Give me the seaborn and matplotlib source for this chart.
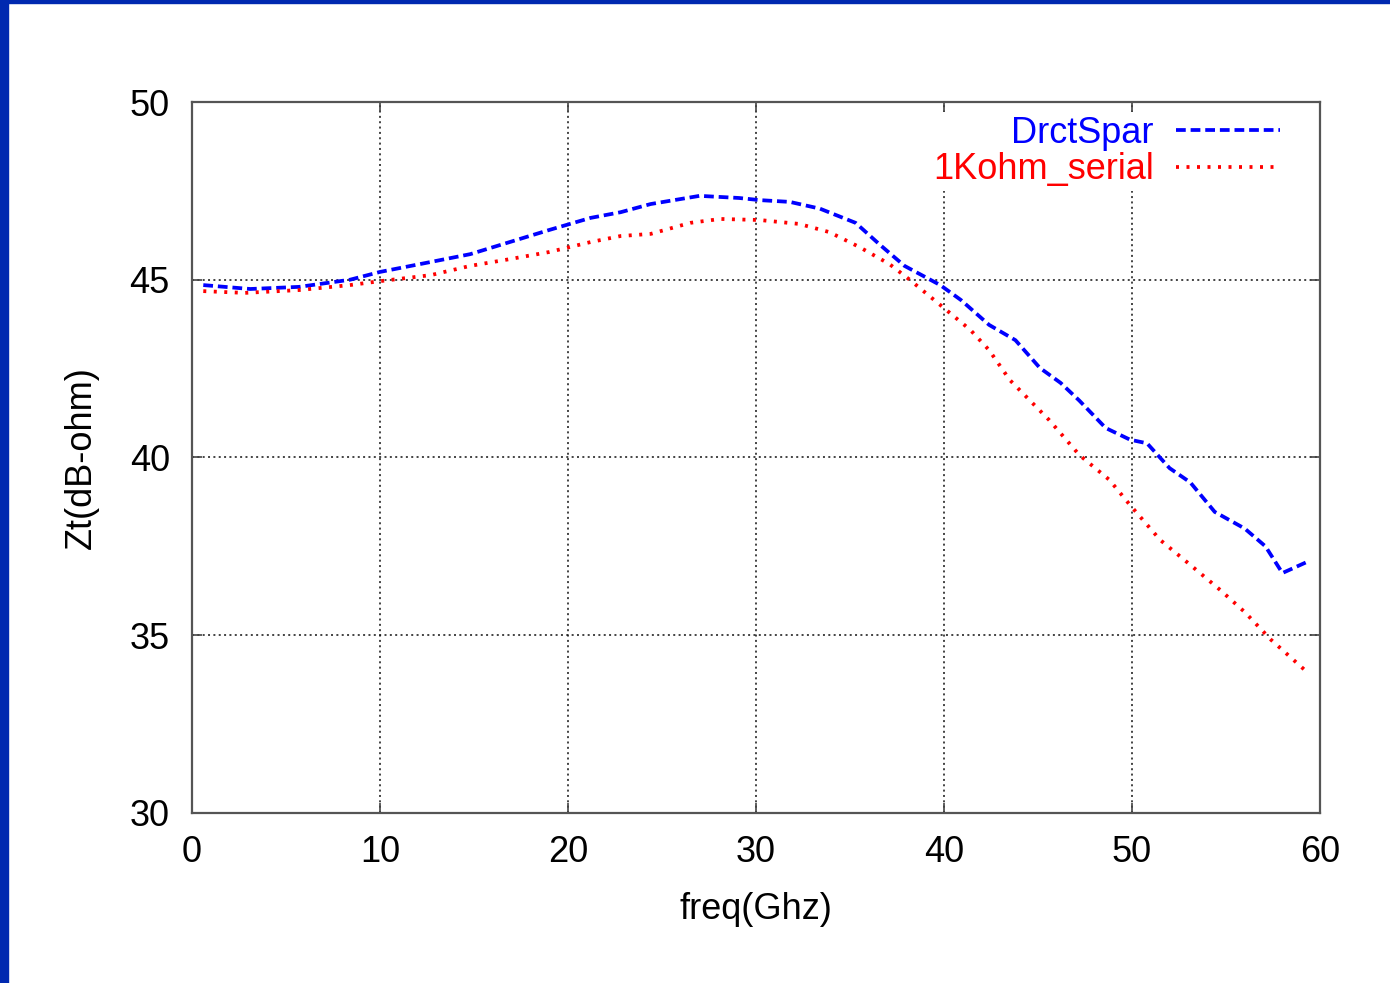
import matplotlib
matplotlib.use("Agg")
import matplotlib.pyplot as plt
import seaborn as sns
import pandas as pd
from matplotlib.patches import Rectangle

# values
freq_drct = [0.6, 3.1, 5.7, 8.4, 10.0, 12.7, 14.8, 16.9, 19.0, 21.2, 22.8, 24.4, 27.0, 29.1,
             30.2, 31.8, 33.4, 35.3, 36.6, 37.9, 39.8, 40.9, 42.4, 43.8, 45.1, 46.2, 47.2,
             48.6, 49.9, 50.8, 52.0, 53.1, 54.4, 56.0, 57.1, 58.0, 59.3]
zt_drct = [44.85, 44.74, 44.80, 45.00, 45.22, 45.50, 45.72, 46.06, 46.40, 46.74, 46.90, 47.13,
           47.36, 47.30, 47.24, 47.19, 47.00, 46.60, 45.98, 45.39, 44.85, 44.43, 43.73, 43.30,
           42.52, 42.10, 41.60, 40.83, 40.50, 40.40, 39.70, 39.30, 38.47, 38.00, 37.50, 36.75,
           37.06]

freq_1k = [0.6, 2.8, 5.7, 8.4, 10.0, 12.7, 14.8, 16.9, 19.0, 21.2, 22.8, 24.4, 26.5, 28.1,
           30.2, 32.3, 33.9, 35.5, 37.1, 38.2, 39.8, 41.4, 42.4, 43.5, 45.6, 47.2, 48.8, 49.9,
           51.5, 53.1, 54.7, 56.0, 57.4, 59.3]
zt_1k = [44.68, 44.63, 44.71, 44.85, 44.96, 45.13, 45.39, 45.58, 45.78, 46.06, 46.23, 46.29,
         46.60, 46.71, 46.68, 46.57, 46.34, 45.92, 45.44, 44.99, 44.29, 43.59, 43.02, 42.18,
         41.05, 40.07, 39.37, 38.66, 37.68, 36.98, 36.27, 35.65, 34.87, 33.97]

series_names = ["DrctSpar", "1Kohm_serial"]
x_ticks = [0, 10, 20, 30, 40, 50, 60]
y_ticks = [30, 35, 40, 45, 50]

df = pd.concat([
    pd.DataFrame({"freq": freq_drct, "zt": zt_drct, "series": series_names[0]}),
    pd.DataFrame({"freq": freq_1k, "zt": zt_1k, "series": series_names[1]}),
], ignore_index=True)

sns.set_style("white")
plt.rcParams["font.family"] = ["Liberation Sans", "DejaVu Sans"]
plt.rcParams["text.color"] = "black"
plt.rcParams["axes.labelcolor"] = "black"
plt.rcParams["xtick.labelcolor"] = "black"
plt.rcParams["ytick.labelcolor"] = "black"

fig = plt.figure(figsize=(13.9, 9.83), dpi=100)
ax = fig.add_axes([192 / 1390, 1 - 813 / 983, (1320 - 192) / 1390, (813 - 102) / 983])

sns.lineplot(data=df, x="freq", y="zt", hue="series", style="series",
             palette={"DrctSpar": "#0000ff", "1Kohm_serial": "#ff0000"},
             dashes={"DrctSpar": (2.6, 1.3), "1Kohm_serial": (0.8, 2.0)},
             estimator=None, sort=False, linewidth=2.7, ax=ax)

ax.set_xlim(0, 60)
ax.set_ylim(30, 50)
ax.set_xticks(x_ticks)
ax.set_yticks(y_ticks)
ax.grid(True, color="#111111", linestyle=(0, (1.3, 2.2)), linewidth=1.1)
ax.tick_params(direction="in", length=7, width=1.2, color="#444444", labelsize=26,
               top=True, right=True, bottom=True, left=True, pad=16)
for s in ax.spines.values():
    s.set_color("#555555")
    s.set_linewidth(1.6)

ax.set_xlabel("freq(Ghz)", fontsize=26, labelpad=16)
ax.set_ylabel("Zt(dB-ohm)", fontsize=26, labelpad=22)

# white box behind the key hides the grid there, as in the reference
leg = ax.legend(loc="upper right", markerfirst=False, frameon=True, fontsize=26,
                labelcolor="linecolor", handlelength=2.9, handletextpad=0.6,
                labelspacing=0.05, borderaxespad=0.0, borderpad=0.1,
                bbox_to_anchor=(0.968, 0.986), facecolor="white", edgecolor="none",
                framealpha=1.0, fancybox=False)
for line in leg.get_lines():
    line.set_linewidth(2.7)

# blue slide frame on left and top edges
fig.add_artist(Rectangle((0, 0), 8 / 1390, 1, transform=fig.transFigure,
                         color="#0029b0", zorder=10))
fig.add_artist(Rectangle((0, 1 - 3 / 983), 1, 3 / 983, transform=fig.transFigure,
                         color="#0029b0", zorder=10))

fig.savefig("out.png", dpi=100)
